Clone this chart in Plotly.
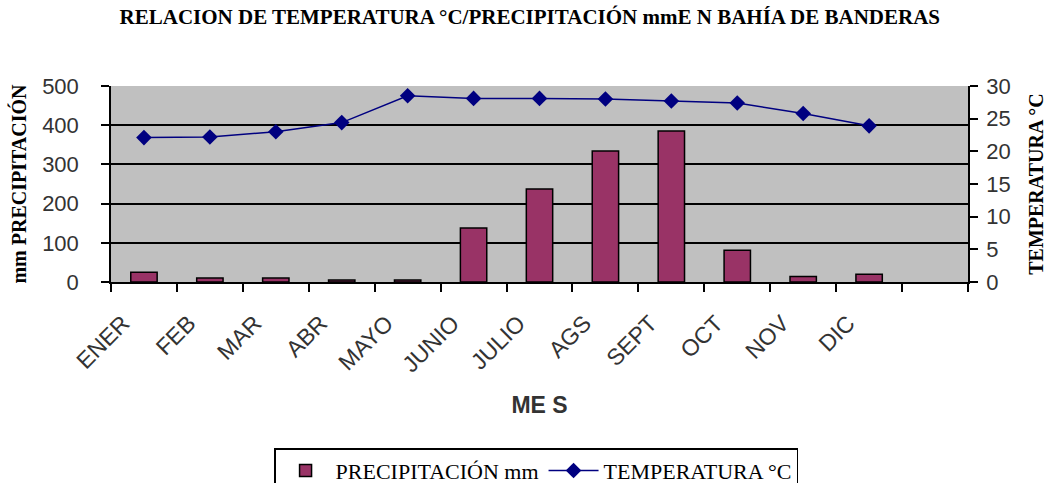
import plotly.graph_objects as go

months = ["ENER", "FEB", "MAR", "ABR", "MAYO", "JUNIO", "JULIO", "AGS", "SEPT", "OCT", "NOV", "DIC"]
precip_mm = [25, 10, 10, 5, 5, 138, 237, 334, 385, 81, 14, 20]
temp_c = [22.1, 22.2, 23.0, 24.4, 28.5, 28.1, 28.1, 28.0, 27.7, 27.4, 25.8, 23.9]
extra_slot = [" "]

serif = "Liberation Serif, Times New Roman, serif"
sans = "Liberation Sans, Arial, sans-serif"

fig = go.Figure()
fig.add_trace(go.Bar(
    x=months, y=precip_mm, name="PRECIPITACIÓN mm",
    marker=dict(color="#993366", line=dict(color="black", width=1.5)),
    width=0.4, yaxis="y",
))
fig.add_trace(go.Scatter(
    x=months, y=temp_c, name="TEMPERATURA °C", mode="lines+markers",
    line=dict(color="#000080", width=1.5),
    marker=dict(symbol="diamond", size=12, color="#000080"),
    yaxis="y2",
))

fig.update_layout(
    width=1047, height=483,
    margin=dict(l=111, r=79, t=86, b=201),
    paper_bgcolor="white", plot_bgcolor="#C0C0C0",
    title=dict(text="<b>RELACION DE TEMPERATURA °C/PRECIPITACIÓN mmE N BAHÍA DE BANDERAS</b>",
               x=0.506, xanchor="center", y=0.965, yanchor="middle",
               font=dict(family=serif, size=21, color="black")),
    xaxis=dict(
        type="category", categoryorder="array", categoryarray=months + extra_slot,
        range=[-0.5, 12.5], tickson="boundaries", ticks="outside", ticklen=8,
        tickcolor="black", tickwidth=1.5, showline=True, linecolor="black", linewidth=1.5,
        showgrid=False, tickangle=-45, automargin=False,
        ticklabelstandoff=17, ticklabelshift=-21,
        tickfont=dict(family=sans, size=23, color="#333333"),
        title=dict(text="<b>ME S</b>", font=dict(family=sans, size=23, color="#333333"), standoff=21),
    ),
    yaxis=dict(
        range=[0, 500], dtick=100, ticks="outside", ticklen=8, tickcolor="black", tickwidth=1.5,
        showline=True, linecolor="black", linewidth=1.5, automargin=False,
        showgrid=True, gridcolor="black", gridwidth=1.5, zeroline=False,
        ticklabelstandoff=18,
        tickfont=dict(family=sans, size=22, color="#333333"),
        title=dict(text="<b>mm PRECIPITACIÓN</b>", font=dict(family=serif, size=20, color="black"), standoff=10),
    ),
    yaxis2=dict(
        range=[0, 30], dtick=5, overlaying="y", side="right", ticks="outside", ticklen=8,
        tickcolor="black", tickwidth=1.5, showline=True, linecolor="black", linewidth=1.5,
        showgrid=False, zeroline=False, automargin=False,
        ticklabelstandoff=4,
        tickfont=dict(family=sans, size=22, color="#333333"),
        title=dict(text="<b>TEMPERATURA °C</b>", font=dict(family=serif, size=20, color="black"), standoff=20),
    ),
    legend=dict(orientation="h", xref="container", yref="container",
                x=0.512, xanchor="center", y=0.072, yanchor="top",
                bordercolor="black", borderwidth=1.5, bgcolor="white", itemwidth=50,
                font=dict(family=serif, size=22, color="black"), traceorder="normal"),
    bargap=0.6,
)

fig.write_html("out.html", config={"displayModeBar": False},
               post_script="document.body.style.margin='0';")
